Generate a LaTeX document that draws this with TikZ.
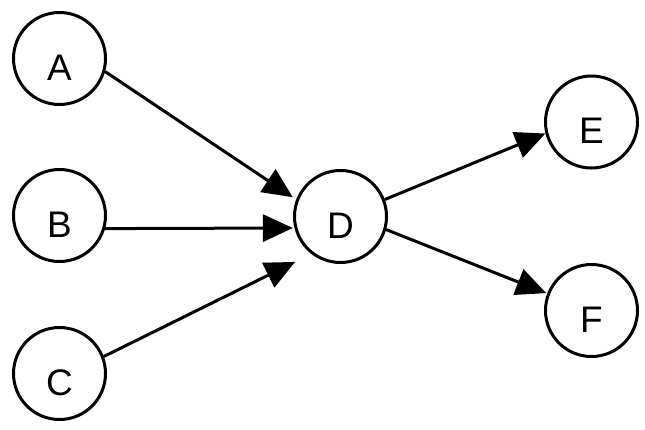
\documentclass[tikz,border=0pt]{standalone}
\usepackage{fontspec}
\setmainfont{Liberation Sans}
\usepackage{tikz}
\usetikzlibrary{arrows.meta,positioning}
\tikzset{
  vertex/.style={
    shape = circle,
    draw,
    line width = 3pt,
    minimum size = 92pt,
    inner sep = 0pt,
    text height = 43pt,
    text depth = 0pt,
    font = \fontsize{37pt}{40pt}\selectfont
  },
  edge/.style={
    line width = 3pt,
    -{Triangle[length=30pt,width=27pt]}
  }
}

\begin{document}
\begin{tikzpicture}[x=1pt,y=-1pt]
    \useasboundingbox (0,0) rectangle (645,429);
    \foreach \n/\x/\y in {A/59.5/58.5, B/59.5/215.5, C/59.5/373.5, D/340.5/216.5, E/591.5/122, F/591.5/310.5}{
    \node[vertex] (\n) at (\x,\y) {\n};}
    \draw[edge, shorten >=4pt] (A.-16) -- (D.159);
    \draw[edge, shorten >=1.5pt] (B.-16) -- (D.194);
    \draw[edge, shorten >=18pt] (C.21) -- (D.232);
    \draw[edge] (D.21) -- (E.194);
    \draw[edge, shorten >=1pt] (D.-16) -- (F.159);
\end{tikzpicture}
\end{document}
